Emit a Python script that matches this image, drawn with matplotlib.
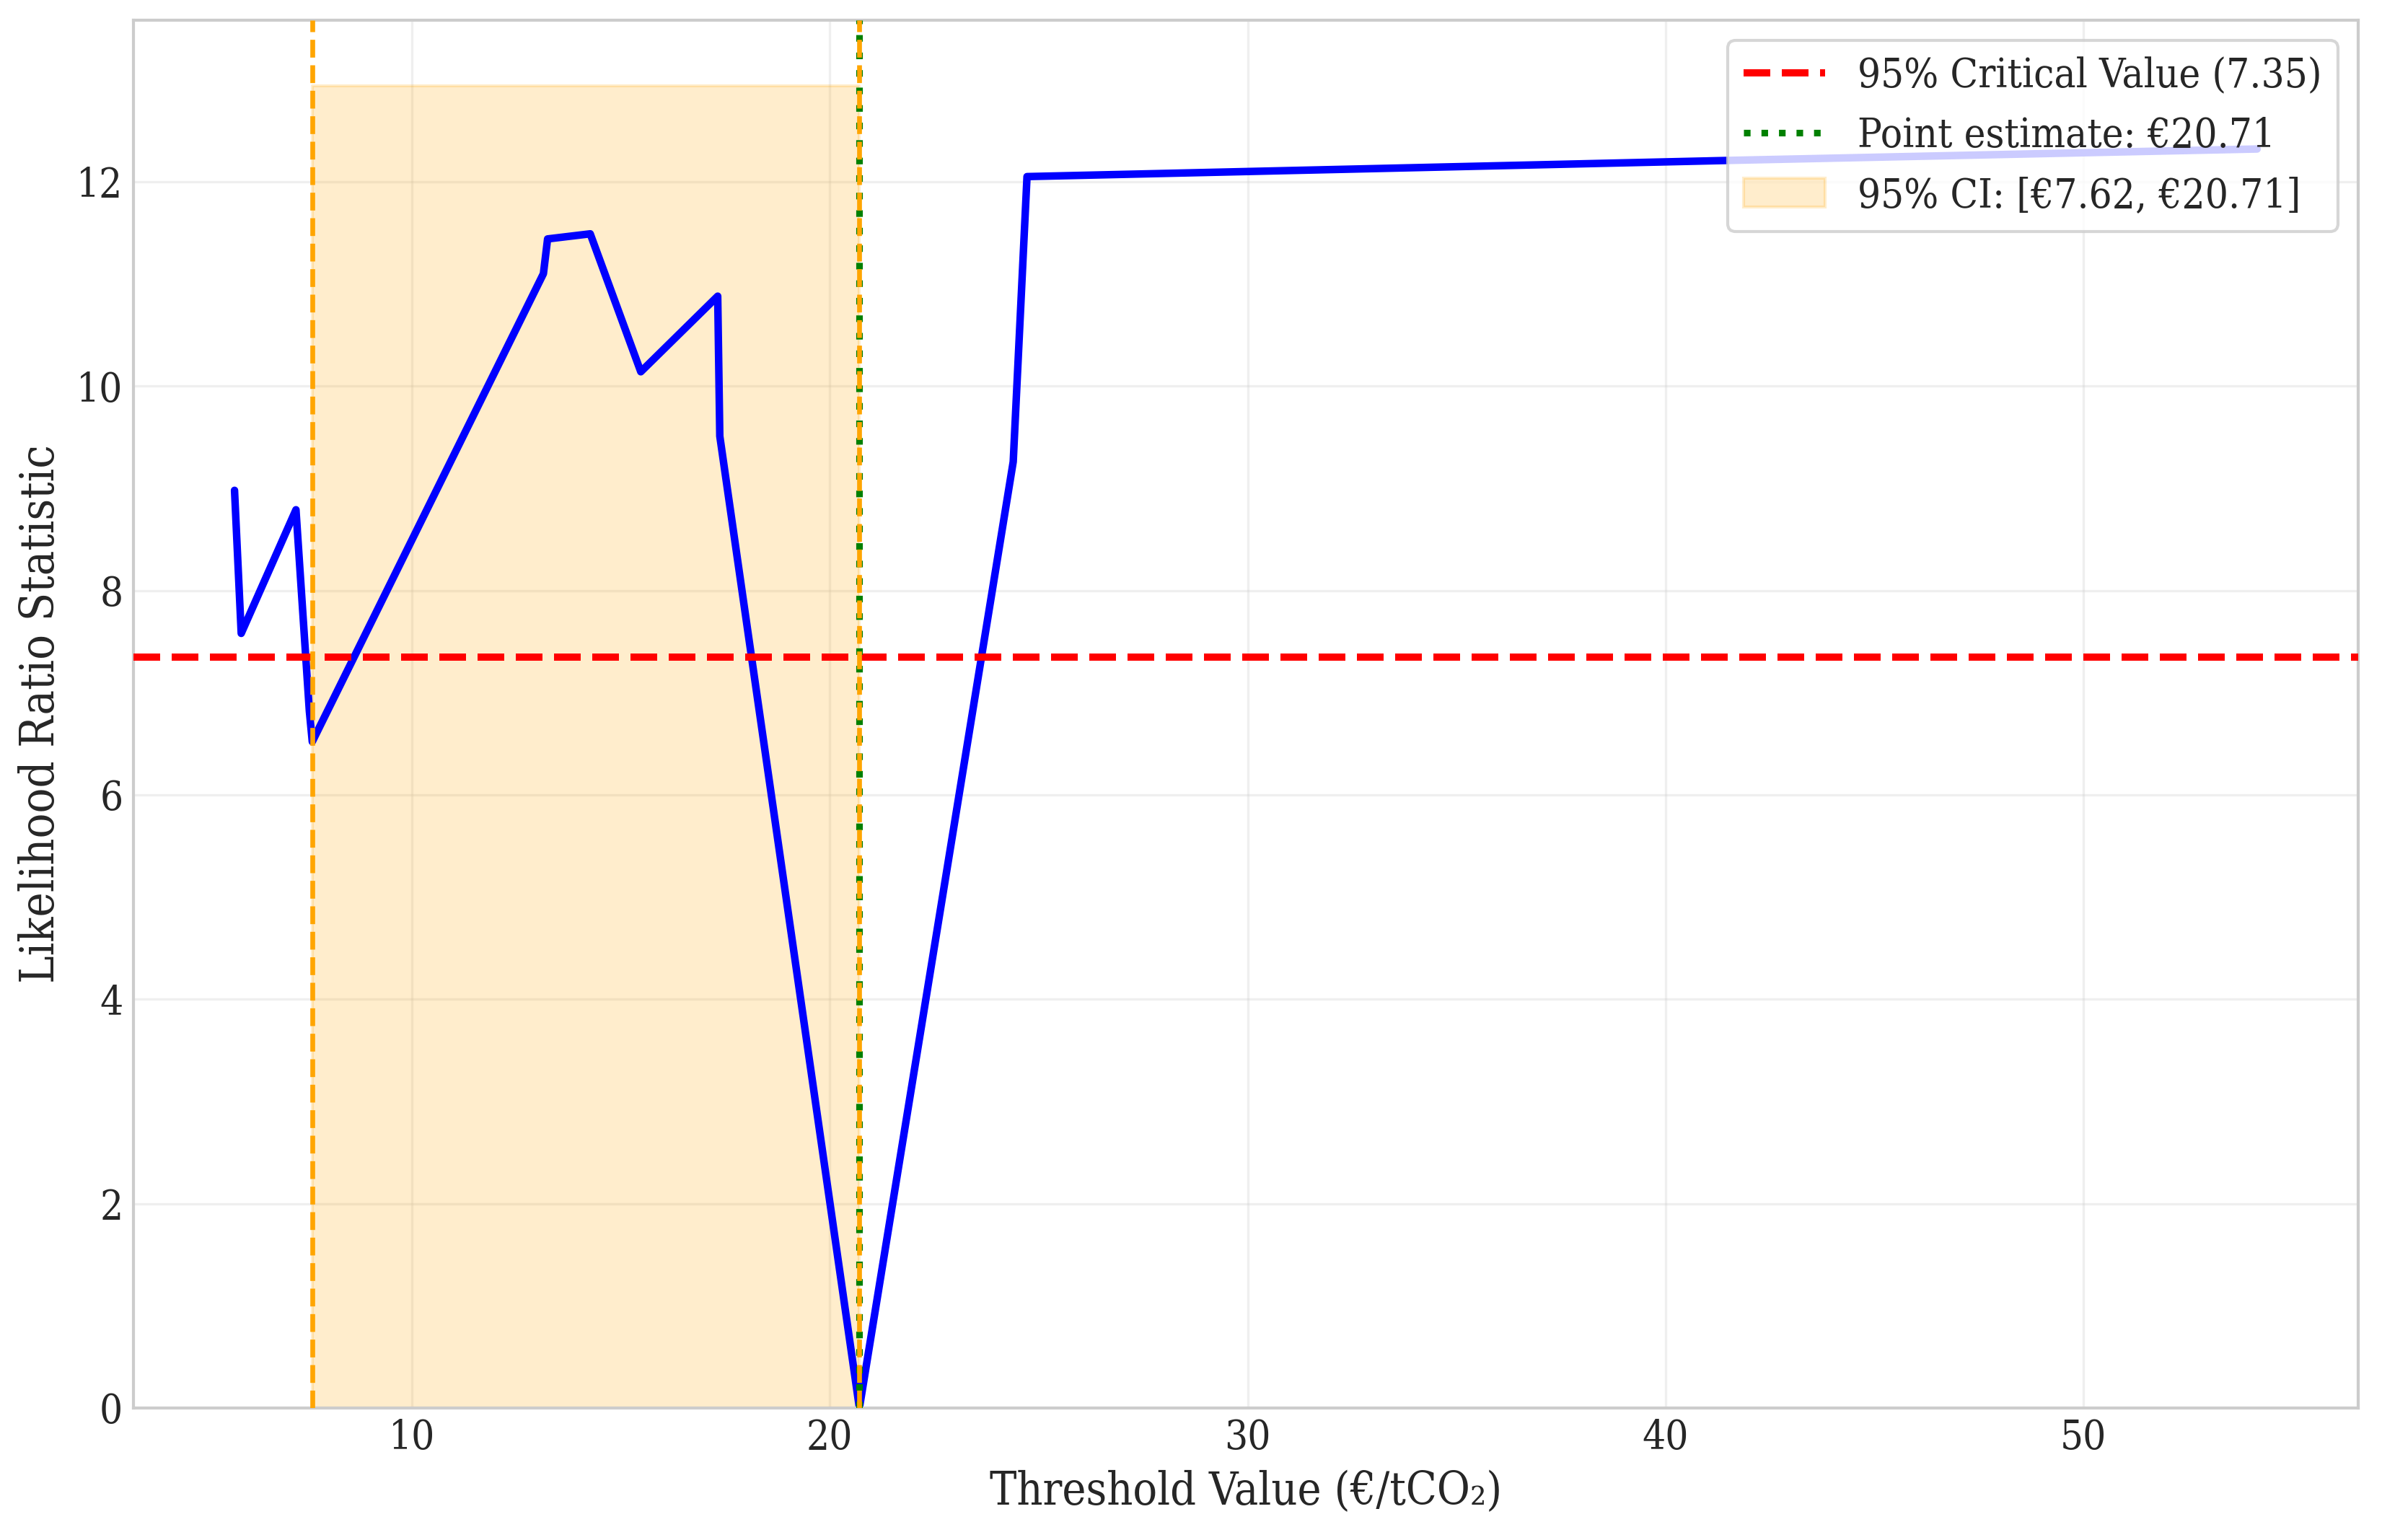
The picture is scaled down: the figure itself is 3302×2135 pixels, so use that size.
import numpy as np
import matplotlib
matplotlib.use('Agg')
import matplotlib.pyplot as plt

plt.style.use('seaborn-v0_8-whitegrid')
plt.rcParams['font.family'] = 'serif'
plt.rcParams['font.serif'] = ['DejaVu Serif']
plt.rcParams['font.stretch'] = 'condensed'

# ── Data ─────────────────────────────────────────────────────────────────────
thresholds = [5.76, 5.92, 7.23, 7.55, 7.62, 13.15, 13.25, 14.27, 15.48,
              17.32, 17.37, 20.71, 24.39, 24.72, 41.70, 54.15]
lr_stat    = [8.98, 7.58, 8.79, 6.82, 6.52, 11.10, 11.44, 11.49, 10.14,
              10.88, 9.51, 0.00, 9.26, 12.05, 12.21, 12.32]
crit_val   = 7.35
point_est  = 20.71
ci_low, ci_high = 7.62, 20.71

fig, ax = plt.subplots(figsize=(11.007, 7.117))
fig.subplots_adjust(left=0.056, right=0.990, bottom=0.0857, top=0.987)

ax.plot(thresholds, lr_stat, color='blue', lw=2.5, zorder=2)
ax.axhline(crit_val, color='red', ls='--', lw=2.4,
           label=f'95% Critical Value ({crit_val:.2f})', zorder=3)
ax.axvline(point_est, color='green', ls=':', lw=2.2,
           label=f'Point estimate: €{point_est:.2f}', zorder=3)
top = max(lr_stat) * 1.05
ax.fill_between([ci_low, ci_high], 0, top, color='orange', alpha=0.2,
                label=f'95% CI: [€{ci_low:.2f}, €{ci_high:.2f}]', zorder=1)
ax.axvline(ci_low, color='orange', ls='--', lw=1.6, zorder=3)
ax.axvline(ci_high, color='orange', ls='--', lw=1.6, zorder=3)

ax.set_ylim(bottom=0)
ax.grid(True, alpha=0.3)
ax.tick_params(labelsize=13.5, colors='#262626')
ax.set_xlabel('Threshold Value (€/tCO₂)', fontsize=15, color='#262626')
ax.set_ylabel('Likelihood Ratio Statistic', fontsize=15.5, color='#262626')

ax.legend(loc='upper right', fontsize=13.5, frameon=True, framealpha=0.8)

fig.savefig('out.png', dpi=300, facecolor='white')
